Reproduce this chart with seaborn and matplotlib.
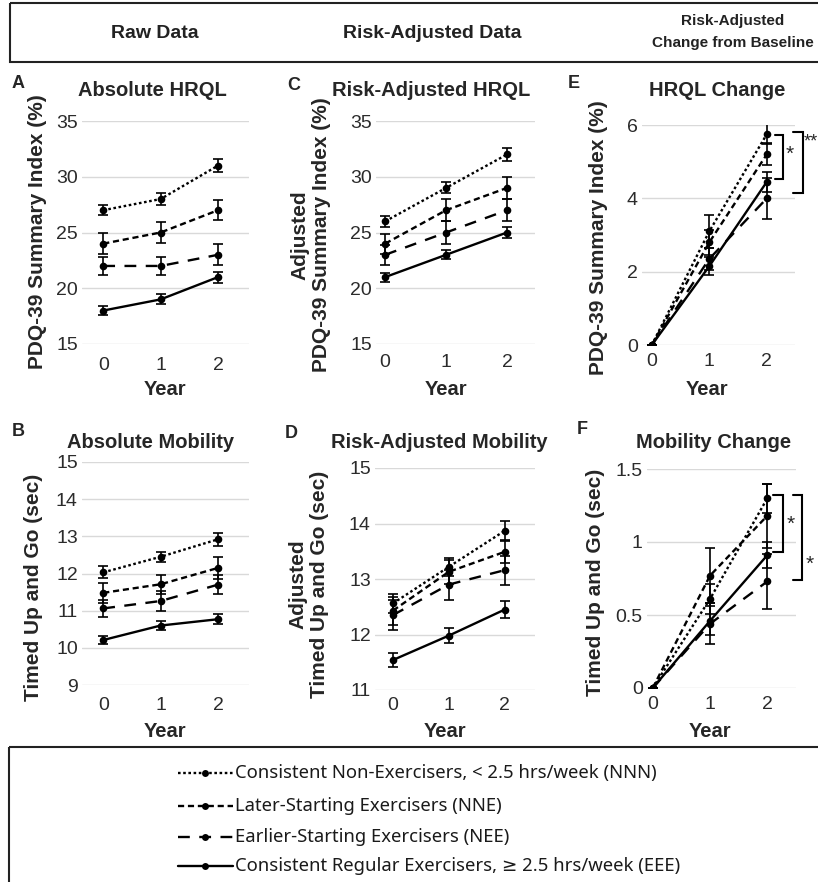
import numpy as np
import pandas as pd
import matplotlib
matplotlib.use('Agg')
import matplotlib.pyplot as plt
import matplotlib.transforms as mtransforms
from matplotlib.lines import Line2D
from matplotlib.patches import Rectangle
import seaborn as sns

years = [0, 1, 2]
groups = ['NNN', 'NNE', 'NEE', 'EEE']
legend_labels = ['Consistent Non-Exercisers, < 2.5 hrs/week (NNN)',
                 'Later-Starting Exercisers (NNE)',
                 'Earlier-Starting Exercisers (NEE)',
                 'Consistent Regular Exercisers, \u2265 2.5 hrs/week (EEE)']

# A - absolute HRQL
hrql_raw = {'NNN': [27, 28, 31], 'NNE': [24, 25, 27], 'NEE': [22, 22, 23], 'EEE': [18, 19, 21]}
hrql_raw_err = {'NNN': [0.45, 0.54, 0.57], 'NNE': [0.92, 0.93, 0.9], 'NEE': [0.82, 0.84, 0.95], 'EEE': [0.37, 0.45, 0.5]}
# C - risk adjusted HRQL
hrql_adj = {'NNN': [26, 29, 32], 'NNE': [24, 27, 29], 'NEE': [23, 25, 27], 'EEE': [21, 23, 25]}
hrql_adj_err = {'NNN': [0.5, 0.5, 0.6], 'NNE': [0.9, 1.0, 1.0], 'NEE': [0.9, 1.0, 1.0], 'EEE': [0.4, 0.4, 0.45]}
# E - HRQL change
hrql_chg = {'NNN': [0, 3.1, 5.75], 'NNE': [0, 2.8, 5.2], 'NEE': [0, 2.35, 4.0], 'EEE': [0, 2.15, 4.45]}
hrql_chg_err = {'NNN': [0, 0.45, 0.27], 'NNE': [0, 0.35, 0.3], 'NEE': [0, 0.3, 0.55], 'EEE': [0, 0.25, 0.27]}
# B - absolute mobility
mob_raw = {'NNN': [12.03, 12.45, 12.92], 'NNE': [11.48, 11.71, 12.15], 'NEE': [11.06, 11.26, 11.7], 'EEE': [10.21, 10.6, 10.77]}
mob_raw_err = {'NNN': [0.16, 0.14, 0.18], 'NNE': [0.27, 0.26, 0.3], 'NEE': [0.24, 0.26, 0.25], 'EEE': [0.1, 0.11, 0.13]}
# D - risk adjusted mobility
mob_adj = {'NNN': [12.56, 13.22, 13.87], 'NNE': [12.43, 13.13, 13.49], 'NEE': [12.35, 12.9, 13.16], 'EEE': [11.54, 11.98, 12.45]}
mob_adj_err = {'NNN': [0.17, 0.16, 0.17], 'NNE': [0.25, 0.22, 0.2], 'NEE': [0.27, 0.27, 0.26], 'EEE': [0.13, 0.14, 0.15]}
# F - mobility change
mob_chg = {'NNN': [0, 0.61, 1.3], 'NNE': [0, 0.77, 1.18], 'NEE': [0, 0.44, 0.73], 'EEE': [0, 0.46, 0.91]}
mob_chg_err = {'NNN': [0, 0.1, 0.1], 'NNE': [0, 0.19, 0.22], 'NEE': [0, 0.14, 0.19], 'EEE': [0, 0.1, 0.09]}

dash_map = {'NNN': (1.1, 1.1), 'NNE': (2.6, 1.6), 'NEE': (5, 4), 'EEE': ''}
marker_map = {g: 'o' for g in groups}

sns.set_style('white')
plt.rcParams['font.family'] = ['Liberation Sans', 'DejaVu Sans']

W, H = 818, 882
fig = plt.figure(figsize=(W / 100, H / 100), dpi=100)
# pixel coords measured from the top-left corner
px = mtransforms.Affine2D().scale(0.01, -0.01).translate(0, H / 100) + fig.dpi_scale_trans


def long_df(means):
    rows = []
    for g in groups:
        for yr, v in zip(years, means[g]):
            rows.append({'Year': yr, 'value': v, 'group': g})
    return pd.DataFrame(rows)


panels = [
    dict(letter='A', title='Absolute HRQL', means=hrql_raw, errs=hrql_raw_err,
         box=(82, 121, 249, 344), xlim=(-0.37, 2.54), ylim=(15, 35), yticks=[15, 20, 25, 30, 35],
         ylabel='PDQ-39 Summary Index (%)', ylab=(47, 232), title_xy=(152, 90), letter_xy=(12, 84),
         xlab=(165, 380), pad=9),
    dict(letter='C', title='Risk-Adjusted HRQL', means=hrql_adj, errs=hrql_adj_err,
         box=(376, 121, 535, 344), xlim=(-0.15, 2.46), ylim=(15, 35), yticks=[15, 20, 25, 30, 35],
         ylabel='Adjusted\nPDQ-39 Summary Index (%)', ylab=(331, 235), title_xy=(431, 91), letter_xy=(287, 86),
         xlab=(446, 380), pad=7),
    dict(letter='E', title='HRQL Change', means=hrql_chg, errs=hrql_chg_err,
         box=(642, 125, 795, 345), xlim=(-0.17, 2.49), ylim=(0, 6), yticks=[0, 2, 4, 6],
         ylabel='PDQ-39 Summary Index (%)', ylab=(608, 238), title_xy=(717, 90), letter_xy=(568, 84),
         xlab=(707, 380), pad=6),
    dict(letter='B', title='Absolute Mobility', means=mob_raw, errs=mob_raw_err,
         box=(82, 462, 249, 685), xlim=(-0.37, 2.54), ylim=(9, 15), yticks=[9, 10, 11, 12, 13, 14, 15],
         ylabel='Timed Up and Go (sec)', ylab=(43, 587), title_xy=(151, 442), letter_xy=(12, 432),
         xlab=(165, 722), pad=9),
    dict(letter='D', title='Risk-Adjusted Mobility', means=mob_adj, errs=mob_adj_err,
         box=(375, 468, 535, 690), xlim=(-0.32, 2.54), ylim=(11, 15), yticks=[11, 12, 13, 14, 15],
         ylabel='Adjusted\nTimed Up and Go (sec)', ylab=(329, 584), title_xy=(439, 442), letter_xy=(285, 433),
         xlab=(445, 722), pad=5),
    dict(letter='F', title='Mobility Change', means=mob_chg, errs=mob_chg_err,
         box=(647, 469, 796, 688), xlim=(-0.1, 2.5), ylim=(0, 1.5), yticks=[0, 0.5, 1, 1.5],
         yticklabels=['0', '0.5', '1', '1.5'],
         ylabel='Timed Up and Go (sec)', ylab=(605, 582), title_xy=(714, 442), letter_xy=(577, 429),
         xlab=(710, 722), pad=6),
]

axes = {}
for p in panels:
    l, t, r, b = p['box']
    ax = fig.add_axes([l / W, 1 - b / H, (r - l) / W, (b - t) / H])
    axes[p['letter']] = ax
    df = long_df(p['means'])
    sns.lineplot(data=df, x='Year', y='value', style='group', style_order=groups,
                 dashes=dash_map, markers=marker_map, color='black', linewidth=1.7,
                 markersize=5.5, markeredgewidth=0, errorbar=None, legend=False, ax=ax)
    for g in groups:
        ax.errorbar(years, p['means'][g], yerr=p['errs'][g], fmt='none', ecolor='black',
                    elinewidth=1.2, capsize=3.6, capthick=1.2)
    ax.set_xlim(*p['xlim'])
    ax.set_ylim(*p['ylim'])
    ax.set_xticks(years)
    ax.set_yticks(p['yticks'])
    if 'yticklabels' in p:
        ax.set_yticklabels(p['yticklabels'])
    ax.grid(axis='y', color='#d9d9d9', linewidth=1.0)
    ax.set_axisbelow(True)
    for s in ax.spines.values():
        s.set_visible(False)
    ax.tick_params(axis='both', length=0, labelsize=14, colors='#2b2b2b')
    ax.tick_params(axis='y', pad=3)
    ax.tick_params(axis='x', pad=p['pad'])
    ax.set_ylabel(p['ylabel'], fontsize=15, fontweight='bold', linespacing=1.15)
    ax.yaxis.set_label_coords(p['ylab'][0], p['ylab'][1], transform=px)
    ax.set_xlabel('Year', fontsize=14.5, fontweight='bold')
    ax.xaxis.set_label_coords(p['xlab'][0], p['xlab'][1], transform=px)
    fig.text(p['title_xy'][0], p['title_xy'][1], p['title'], transform=px, ha='center', va='center',
             fontsize=14.5, fontweight='bold')
    fig.text(p['letter_xy'][0], p['letter_xy'][1], p['letter'], transform=px, ha='left', va='center',
             fontsize=13, fontweight='bold')


def bracket(ax, x0, x1, y_top, y_bot, label, lx, ly, fs=15):
    ax.plot([x0, x1, x1, x0], [y_top, y_top, y_bot, y_bot], color='black', lw=1.5,
            clip_on=False, solid_joinstyle='miter')
    ax.text(lx, ly, label, fontsize=fs, ha='left', va='center', clip_on=False)


bracket(axes['E'], 2.14, 2.28, hrql_chg['NNN'][2] - 0.02, hrql_chg['EEE'][2] + 0.08, '*', 2.32, 5.2)
bracket(axes['E'], 2.45, 2.63, hrql_chg['NNN'][2] + 0.06, hrql_chg['NEE'][2] + 0.15, '**', 2.645, 5.55, fs=13)
bracket(axes['F'], 2.1, 2.28, mob_chg['NNN'][2] + 0.02, mob_chg['EEE'][2] + 0.02, '*', 2.34, 1.12)
bracket(axes['F'], 2.44, 2.6, mob_chg['NNN'][2] + 0.02, mob_chg['NEE'][2] + 0.01, '*', 2.66, 0.85)

# header box
fig.add_artist(Rectangle((10, 3), 830, 59, transform=px, fill=False, edgecolor='#222222', lw=1.5))
fig.text(155, 33, 'Raw Data', transform=px, ha='center', va='center', fontsize=14,
         fontweight='bold', color='#222222')
fig.text(432, 33, 'Risk-Adjusted Data', transform=px, ha='center', va='center', fontsize=14,
         fontweight='bold', color='#222222')
fig.text(733, 32, 'Risk-Adjusted\nChange from Baseline', transform=px, ha='center', va='center',
         fontsize=11, fontweight='bold', linespacing=1.65, color='#222222')

# legend box
fig.add_artist(Rectangle((9, 747), 830, 200, transform=px, fill=False, edgecolor='#222222', lw=1.5))
leg_y = [773, 806, 837, 866]
for g, lab, yy in zip(groups, legend_labels, leg_y):
    ln = Line2D([178, 205, 233], [yy, yy, yy], transform=px, color='black', lw=1.7,
                marker='o', markersize=5, markeredgewidth=0, markevery=[1])
    if dash_map[g]:
        ln.set_dashes(dash_map[g])
    fig.add_artist(ln)
    fig.text(235, yy, lab, transform=px, ha='left', va='center', fontsize=13.3,
             family=['Noto Sans', 'DejaVu Sans'], color='#1a1a1a')

fig.savefig('out.png', dpi=100)
